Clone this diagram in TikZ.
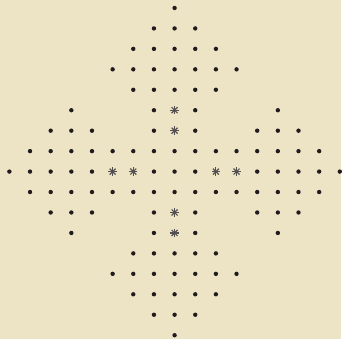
\documentclass[tikz,border=0pt]{standalone}
\usepackage{tikz}
\usetikzlibrary{arrows.meta}
\definecolor{paper}{RGB}{237,227,197}
\definecolor{ink}{RGB}{32,28,30}
\definecolor{starink}{RGB}{85,80,80}
\tikzset {
  >=Stealth,
  pip/.style={fill=ink},
  starmark/.style={draw=starink,line width=0.6pt},
}
\newcommand{\pip}[2]{\fill[pip] (#1,#2) circle[radius=1.1pt];}
\newcommand{\starat}[2]{%
  \foreach \a in {0,45,90,135}
    {\draw[starmark] (#1,#2) ++(\a:2.1pt) -- ++(\a+180:4.2pt);}}

\begin{document}
\begin{tikzpicture}[x=10.35pt,y=10.25pt]
          \fill[paper] (-87.5pt,86pt) rectangle (83.5pt,-84pt);
          \foreach \s in {1,-1} {
            % arms up and down
            \pip{0}{8*\s}
            \foreach \c in {-1,...,1} {\pip{\c}{7*\s}}
            \foreach \c in {-2,...,2} {\pip{\c}{6*\s}}
            \foreach \c in {-3,...,3} {\pip{\c}{5*\s}}
            \foreach \c in {-2,...,2} {\pip{\c}{4*\s}}
            \foreach \c in {-5,-1,1,5} {\pip{\c}{3*\s}}
            \foreach \c in {-6,-5,-4,-1,1,4,5,6} {\pip{\c}{2*\s}}
            \foreach \c in {-7,...,7} {\pip{\c}{\s}}
            % middle row
            \foreach \c in {4,...,8} {\pip{\c*\s}{0}}
            \pip{\s}{0}
            \starat{0}{2*\s}
            \starat{0}{3*\s}
            \starat{2*\s}{0}
            \starat{3*\s}{0}
          }
          \pip{0}{0}
        \end{tikzpicture}
\end{document}
